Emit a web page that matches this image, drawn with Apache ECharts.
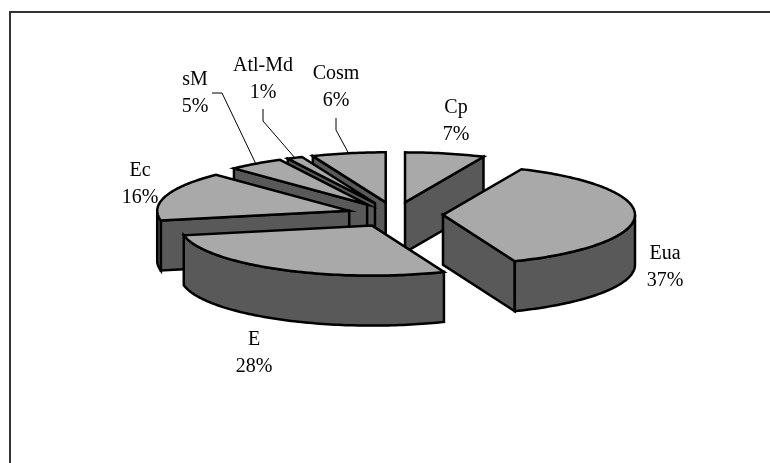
<!DOCTYPE html>
<html>
<head>
<meta charset="utf-8">
<style>
  html, body { margin: 0; padding: 0; background: #fff; }
  #chart { width: 770px; height: 463px; }
</style>
<script src="https://cdn.jsdelivr.net/npm/echarts@6/dist/echarts.min.js"></script>
</head>
<body>
<div id="chart"></div>
<script>
// clockwise from 12 o'clock
var categories = ['Cp', 'Eua', 'E', 'Ec', 'sM', 'Atl-Md', 'Cosm'];
var values = [6.7, 37.2, 28, 15.9, 4.7, 1.3, 6.2];

// pie projection
var cx = 395, cy = 214.6, rx = 192, ry = 50, depth = 50, explode = 0.25;
var topColor = '#a9a9a9', wallColor = '#595959', edge = '#000';

// label centres
var labelPos = {
  'Cp': [456, 121], 'Eua': [665, 267], 'E': [254, 353], 'Ec': [140, 184],
  'sM': [195, 93], 'Atl-Md': [263, 79], 'Cosm': [336, 87]
};
// leader lines: label end and elbow, last point comes from the slice itself
var leaders = {
  'sM': [[212, 93], [222, 93]],
  'Atl-Md': [[263, 109], [263, 121]],
  'Cosm': [[336, 118], [336, 130]]
};

var total = values.reduce(function (a, b) { return a + b; }, 0);
var slices = [];
var acc = 0;
categories.forEach(function (name, i) {
  var a0 = acc / total * Math.PI * 2;
  acc += values[i];
  var a1 = acc / total * Math.PI * 2;
  var mid = (a0 + a1) / 2;
  slices.push({
    name: name, value: values[i], a0: a0, a1: a1, mid: mid,
    ox: cx + rx * explode * Math.sin(mid),
    oy: cy - ry * explode * Math.cos(mid)
  });
});

function rim(s, a) {
  return [s.ox + rx * Math.sin(a), s.oy - ry * Math.cos(a)];
}

function arcPoints(s, from, to) {
  var pts = [];
  var n = Math.max(2, Math.ceil((to - from) / 0.02));
  for (var i = 0; i <= n; i++) {
    pts.push(rim(s, from + (to - from) * i / n));
  }
  return pts;
}

function down(p) {
  return [p[0], p[1] + depth];
}

function shape(points, fill) {
  return {
    type: 'polygon',
    shape: { points: points },
    style: { fill: fill, stroke: edge, lineWidth: 2.5, lineJoin: 'miter' }
  };
}

function cutFace(s, a) {
  var o = [s.ox, s.oy], p = rim(s, a);
  return shape([o, p, down(p), down(o)], wallColor);
}

// back slices are painted first
var drawOrder = slices.slice().sort(function (a, b) { return a.oy - b.oy; });

function renderSlice(params, api) {
  var s = drawOrder[params.dataIndex];
  var children = [];
  if (Math.sin(s.a0) < -0.001) children.push(cutFace(s, s.a0));
  if (Math.sin(s.a1) > 0.001) children.push(cutFace(s, s.a1));
  // front rim wall only between 90 and 270 degrees
  var from = Math.max(s.a0, Math.PI / 2), to = Math.min(s.a1, Math.PI * 1.5);
  if (to > from) {
    var arc = arcPoints(s, from, to);
    children.push(shape(arc.concat(arc.map(down).reverse()), wallColor));
  }
  children.push(shape([[s.ox, s.oy]].concat(arcPoints(s, s.a0, s.a1)), topColor));
  return { type: 'group', children: children };
}

function renderLabel(params, api) {
  var s = slices[params.dataIndex];
  var pos = labelPos[s.name];
  var children = [{
    type: 'text',
    x: pos[0], y: pos[1],
    style: {
      text: s.name + '\n' + Math.round(api.value(0)) + '%',
      fill: '#000',
      font: '20px "Liberation Serif"',
      lineHeight: 27,
      align: 'center',
      verticalAlign: 'middle'
    }
  }];
  if (leaders[s.name]) {
    children.push({
      type: 'polyline',
      shape: { points: leaders[s.name].concat([rim(s, s.mid)]) },
      style: { fill: 'none', stroke: '#000', lineWidth: 1 }
    });
  }
  return { type: 'group', children: children };
}

var chart = echarts.init(document.getElementById('chart'), null, { renderer: 'canvas' });
chart.setOption({
  animation: false,
  backgroundColor: '#fff',
  graphic: [{
    type: 'polyline',
    silent: true,
    shape: { points: [[10, 463], [10, 12], [770, 12]] },
    style: { fill: 'none', stroke: '#333', lineWidth: 2 }
  }],
  series: [{
    type: 'custom',
    coordinateSystem: 'none',
    renderItem: renderSlice,
    data: drawOrder.map(function (s) { return { name: s.name, value: [s.value] }; })
  }, {
    type: 'custom',
    coordinateSystem: 'none',
    renderItem: renderLabel,
    data: slices.map(function (s) { return { name: s.name, value: [s.value] }; })
  }]
});
</script>
</body>
</html>
